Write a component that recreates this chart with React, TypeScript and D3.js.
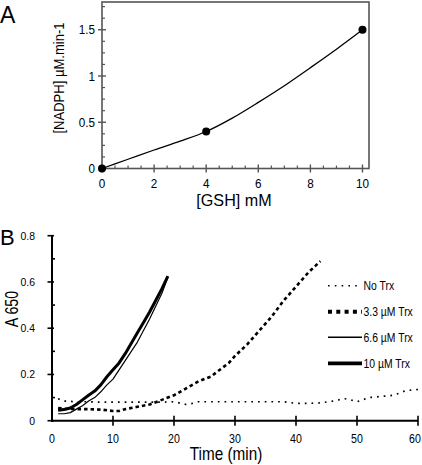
import React from "react";
import * as d3 from "d3";

// Panel A data
const gshPoints = [0, 4, 10];
const nadphPoints = [0, 0.4, 1.5];
const gshCurve = [0, 1, 2, 3, 4, 5, 6, 7, 8, 9, 10];
const nadphCurve = [0, 0.1, 0.2, 0.295, 0.4, 0.545, 0.715, 0.895, 1.09, 1.29, 1.5];
const aXTicks = [0, 2, 4, 6, 8, 10];
const aYTicks = [0, 0.5, 1, 1.5];
const aYTickLabels = ["0", "0.5", "1", "1.5"];

// Panel B data
const timeNoTrx = [1, 2, 4, 6, 8, 10, 12, 14, 16, 18, 20, 22, 23, 24, 26, 28, 30, 32, 34, 36, 38, 40, 42, 44, 46, 48, 49, 50, 52, 54, 56, 58, 60];
const a650NoTrx = [0.095, 0.085, 0.082, 0.082, 0.08, 0.08, 0.08, 0.08, 0.08, 0.08, 0.082, 0.07, 0.075, 0.082, 0.082, 0.082, 0.082, 0.082, 0.082, 0.082, 0.082, 0.075, 0.075, 0.077, 0.085, 0.095, 0.09, 0.082, 0.1, 0.105, 0.11, 0.13, 0.135];
const time33 = [1, 2, 4, 6, 8, 10, 11, 12, 14, 16, 18, 20, 22, 24, 26, 28, 29, 30, 32, 34, 36, 38, 40, 42, 44];
const a650_33 = [0.055, 0.052, 0.05, 0.05, 0.048, 0.042, 0.042, 0.05, 0.06, 0.07, 0.09, 0.11, 0.14, 0.17, 0.19, 0.23, 0.25, 0.28, 0.33, 0.39, 0.45, 0.52, 0.58, 0.64, 0.69];
const time66 = [1, 2, 3, 4, 5, 6, 7, 8, 9, 10, 11, 12, 13, 14, 15, 16, 17, 18, 19];
const a650_66 = [0.03, 0.03, 0.035, 0.05, 0.065, 0.085, 0.1, 0.125, 0.155, 0.18, 0.22, 0.26, 0.3, 0.34, 0.39, 0.44, 0.495, 0.55, 0.62];
const time10 = [1, 2, 3, 4, 5, 6, 7, 8, 9, 10, 11, 12, 13, 14, 15, 16, 17, 18, 19];
const a650_10 = [0.045, 0.048, 0.055, 0.07, 0.09, 0.11, 0.128, 0.155, 0.19, 0.22, 0.25, 0.29, 0.335, 0.38, 0.425, 0.47, 0.52, 0.57, 0.625];
const bXTicks = [0, 10, 20, 30, 40, 50, 60];
const bYTicks = [0, 0.2, 0.4, 0.6, 0.8];
const legendLabels = ["No Trx", "3.3 \u00b5M Trx", "6.6 \u00b5M Trx", "10 \u00b5M Trx"];

const FONT = "'Liberation Sans', Arial, sans-serif";

function NT({ x, y, sx = 1, size, anchor = "start", rotate = 0, children, baseline }: any) {
  return (
    <text
      transform={`translate(${x},${y}) rotate(${rotate}) scale(${sx},1)`}
      fontSize={size}
      fontFamily={FONT}
      textAnchor={anchor}
      dominantBaseline={baseline}
      fill="#000"
    >
      {children}
    </text>
  );
}

export default function App() {
  // Panel A scales
  const xA = d3.scaleLinear().domain([0, 10.25]).range([102, 369]);
  const yA = d3.scaleLinear().domain([0, 1.8]).range([168.5, 2]);
  const lineA = d3
    .line<number>()
    .x((_, i) => xA(gshCurve[i]))
    .y((d) => yA(d))
    .curve(d3.curveMonotoneX);

  const aXMinor = d3.range(0, 10.01, 0.5).filter((v) => !aXTicks.includes(v));
  const aYMinor = d3.range(0, 1.76, 0.125).filter((v) => !aYTicks.includes(v));

  // Panel B scales
  const xB = d3.scaleLinear().domain([0, 60]).range([52, 418]);
  const yB = d3.scaleLinear().domain([0, 0.8]).range([420.7, 235.7]);
  const mk = (ts: number[]) =>
    d3
      .line<number>()
      .x((_, i) => xB(ts[i]))
      .y((d) => yB(d));
  const bYMinor = [0.1, 0.3, 0.5, 0.7];

  const series = [
    { t: timeNoTrx, v: a650NoTrx, w: 1.7, dash: "1.7 5", lw: 1.6, ldash: "1.6 5.2" },
    { t: time33, v: a650_33, w: 2.6, dash: "3.5 3", lw: 4, ldash: "4 4.3" },
    { t: time66, v: a650_66, w: 1.2, dash: undefined, lw: 1.5, ldash: undefined },
    { t: time10, v: a650_10, w: 3, dash: undefined, lw: 3.8, ldash: undefined },
  ];
  const legY = [285.7, 311.7, 337.3, 363.3];

  return (
    <svg width={422} height={465} style={{ position: "absolute", left: 0, top: 0 }}>
      <rect width={422} height={465} fill="#fff" />
      {/* Panel A */}
      <NT x={0} y={23} size={23}>A</NT>
      <rect x={102} y={2} width={267} height={166.5} fill="none" stroke="#555" strokeWidth={1.6} />
      {aYTicks.map((v) => (
        <line key={"ay" + v} x1={98} x2={106} y1={yA(v)} y2={yA(v)} stroke="#555" strokeWidth={1.4} />
      ))}
      {aYMinor.map((v) => (
        <line key={"aym" + v} x1={102} x2={105} y1={yA(v)} y2={yA(v)} stroke="#555" strokeWidth={1.2} />
      ))}
      {aXTicks.map((v) => (
        <line key={"ax" + v} x1={xA(v)} x2={xA(v)} y1={164.5} y2={172.5} stroke="#555" strokeWidth={1.4} />
      ))}
      {aXMinor.map((v) => (
        <line key={"axm" + v} x1={xA(v)} x2={xA(v)} y1={165.5} y2={168.5} stroke="#555" strokeWidth={1.2} />
      ))}
      {aYTicks.map((v, i) => (
        <NT key={"ayl" + v} x={95} y={yA(v) + 4.6} size={13} sx={0.9} anchor="end">
          {aYTickLabels[i]}
        </NT>
      ))}
      {aXTicks.map((v) => (
        <NT key={"axl" + v} x={xA(v)} y={188.3} size={13} sx={0.9} anchor="middle">
          {String(v)}
        </NT>
      ))}
      <path d={lineA(nadphCurve) || ""} fill="none" stroke="#000" strokeWidth={1.3} />
      {gshPoints.map((g, i) => (
        <circle key={"pt" + i} cx={xA(g)} cy={yA(nadphPoints[i])} r={4} fill="#000" />
      ))}
      <NT x={64} y={78} size={15} sx={0.87} anchor="middle" rotate={-90}>
        [NADPH] {"\u00b5"}M.min-1
      </NT>
      <NT x={234} y={206} size={17} sx={0.95} anchor="middle">
        [GSH] mM
      </NT>

      {/* Panel B */}
      <NT x={0} y={245} size={22}>B</NT>
      <line x1={52} x2={52} y1={yB(0.8)} y2={yB(0) + 1} stroke="#000" strokeWidth={2} />
      <line x1={51} x2={418} y1={yB(0)} y2={yB(0)} stroke="#000" strokeWidth={2} />
      {bYTicks.map((v) => (
        <line key={"by" + v} x1={47.5} x2={54} y1={yB(v)} y2={yB(v)} stroke="#000" strokeWidth={1.6} />
      ))}
      {bYMinor.map((v) => (
        <line key={"bym" + v} x1={52} x2={55} y1={yB(v)} y2={yB(v)} stroke="#000" strokeWidth={1.6} />
      ))}
      {bXTicks.filter((v) => v > 0).map((v) => (
        <line key={"bx" + v} x1={xB(v)} x2={xB(v)} y1={yB(0) - 5} y2={yB(0) + 5} stroke="#000" strokeWidth={1.6} />
      ))}
      {bYTicks.map((v) => (
        <NT key={"byl" + v} x={35} y={yB(v) + 3.8} size={11} anchor="end" sx={0.95}>
          {v === 0 ? "0" : d3.format(".1f")(v)}
        </NT>
      ))}
      {bXTicks.map((v) => (
        <NT key={"bxl" + v} x={Math.min(xB(v), 415)} y={442.5} size={13} sx={0.82} anchor="middle">
          {String(v)}
        </NT>
      ))}
      <NT x={226} y={460} size={18} sx={0.85} anchor="middle">
        Time (min)
      </NT>
      <NT x={18} y={309} size={19} sx={0.75} anchor="middle" rotate={-90}>
        A 650
      </NT>
      {series.map((s, i) => (
        <path
          key={"s" + i}
          d={mk(s.t)(s.v) || ""}
          fill="none"
          stroke="#000"
          strokeWidth={s.w}
          strokeDasharray={s.dash}
          strokeLinejoin="round"
        />
      ))}
      {series.map((s, i) => (
        <g key={"lg" + i}>
          <line x1={328} x2={362} y1={legY[i]} y2={legY[i]} stroke="#000" strokeWidth={s.lw} strokeDasharray={s.ldash} />
          <NT x={363.5} y={legY[i] + 4.5} size={13} sx={0.8}>
            {legendLabels[i]}
          </NT>
        </g>
      ))}
    </svg>
  );
}
